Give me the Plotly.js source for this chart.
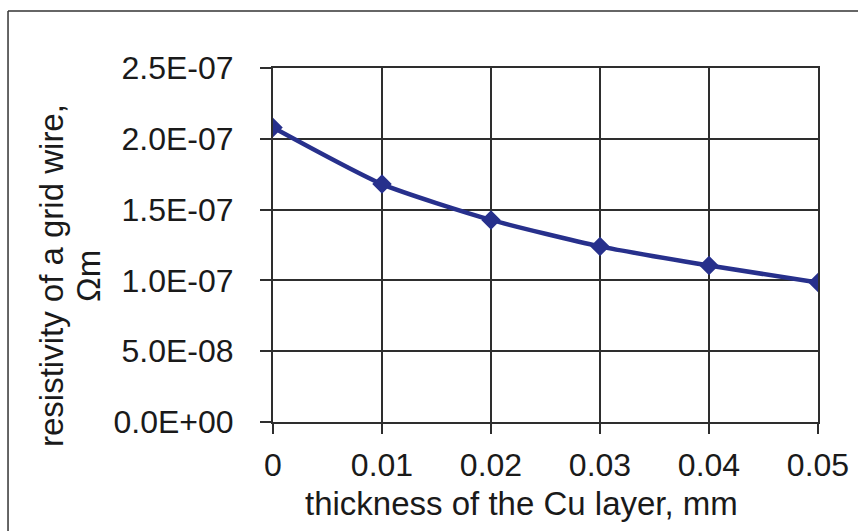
<!DOCTYPE html>
<html>
<head>
<meta charset="utf-8">
<script src="https://cdn.plot.ly/plotly-3.0.1.min.js"></script>
<style>html,body{margin:0;padding:0;background:#fff;}#chart{width:858px;height:531px;}</style>
</head>
<body>
<div id="chart"></div>
<script>
const thickness = [0, 0.01, 0.02, 0.03, 0.04, 0.05];
const resistivity = [2.08e-7, 1.68e-7, 1.427e-7, 1.24e-7, 1.105e-7, 0.985e-7];
const xTickVals = [0, 0.01, 0.02, 0.03, 0.04, 0.05];
const xTickText = ["0", "0.01", "0.02", "0.03", "0.04", "0.05"];
const yTickVals = [0, 5e-8, 1e-7, 1.5e-7, 2e-7, 2.5e-7];
const yTickText = ["0.0E+00", "5.0E-08", "1.0E-07", "1.5E-07", "2.0E-07", "2.5E-07"];
const xTitle = "thickness of the Cu layer, mm";
const yTitleLine1 = "resistivity of a grid wire,";
const yTitleLine2 = "Ωm";

const FONT = "Liberation Sans, Arial, sans-serif";
const TXT = "#1a1a1a";
const GRID = "#2e2e2e";

const trace = {
  x: thickness, y: resistivity, type: "scatter", mode: "lines+markers",
  line: {color: "#27308c", width: 4.5, shape: "spline", smoothing: 0.6},
  marker: {symbol: "diamond", size: 15, color: "#27308c"},
  hoverinfo: "skip"
};

const layout = {
  width: 858, height: 531,
  margin: {l: 273, r: 40, t: 68, b: 109, pad: 0},
  paper_bgcolor: "#ffffff", plot_bgcolor: "#ffffff",
  showlegend: false,
  font: {family: FONT, color: TXT, size: 32},
  xaxis: {
    range: [0, 0.05], tickvals: xTickVals, ticktext: xTickText,
    showgrid: true, gridcolor: GRID, gridwidth: 2,
    showline: true, linecolor: GRID, linewidth: 2, mirror: true,
    zeroline: false, ticks: "outside", ticklen: 10, tickwidth: 2, tickcolor: GRID,
    tickfont: {family: FONT, size: 32, color: TXT}, ticklabelstandoff: 4
  },
  yaxis: {
    range: [0, 2.5e-7], tickvals: yTickVals, ticktext: yTickText,
    showgrid: true, gridcolor: GRID, gridwidth: 2,
    showline: true, linecolor: GRID, linewidth: 2, mirror: true,
    zeroline: false, ticks: "outside", ticklen: 11, tickwidth: 2, tickcolor: GRID,
    tickfont: {family: FONT, size: 32, color: TXT}, ticklabelstandoff: 20
  },
  annotations: [
    {text: xTitle, xref: "paper", yref: "paper", x: 0.456, y: -0.2316,
     xanchor: "center", yanchor: "middle", showarrow: false,
     font: {family: FONT, size: 33, color: TXT}},
    {text: yTitleLine1, xref: "paper", yref: "paper", x: -0.4073, y: 0.4124,
     xanchor: "center", yanchor: "middle", showarrow: false, textangle: -90,
     font: {family: FONT, size: 33, color: TXT}},
    {text: yTitleLine2, xref: "paper", yref: "paper", x: -0.3394, y: 0.4124,
     xanchor: "center", yanchor: "middle", showarrow: false, textangle: -90,
     font: {family: FONT, size: 33, color: TXT}}
  ],
  shapes: [
    {type: "line", xref: "paper", yref: "paper", x0: -0.4862, x1: -0.4862, y0: 1.161, y1: -0.32,
     line: {color: "#333333", width: 1.5}},
    {type: "line", xref: "paper", yref: "paper", x0: -0.4862, x1: 1.08, y0: 1.161, y1: 1.161,
     line: {color: "#333333", width: 1.5}}
  ]
};

Plotly.newPlot("chart", [trace], layout, {displayModeBar: false, staticPlot: true});
</script>
</body>
</html>
